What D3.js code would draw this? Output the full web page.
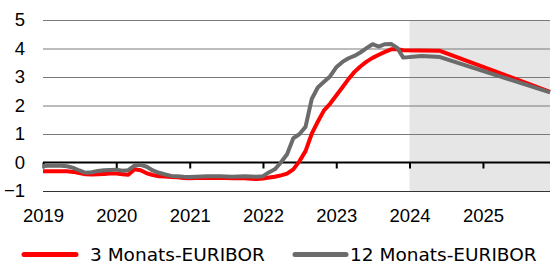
<!DOCTYPE html>
<html>
<head>
<meta charset="utf-8">
<script src="https://cdn.jsdelivr.net/npm/d3@7"></script>
<style>
  html, body { margin: 0; padding: 0; background: #fff; }
  svg { display: block; font-family: "DejaVu Sans", Verdana, sans-serif; }
</style>
</head>
<body>
<div id="chart"></div>
<script>
(function () {
  // ---------- Data ----------
  const months3m = [
    '2019-01','2019-02','2019-03','2019-04','2019-05','2019-06','2019-07','2019-08','2019-09','2019-10','2019-11','2019-12',
    '2020-01','2020-02','2020-03','2020-04','2020-05','2020-06','2020-07','2020-08','2020-09','2020-10','2020-11','2020-12',
    '2021-01','2021-02','2021-03','2021-04','2021-05','2021-06','2021-07','2021-08','2021-09','2021-10','2021-11','2021-12',
    '2022-01','2022-02','2022-03','2022-04','2022-05','2022-06','2022-07','2022-08','2022-09','2022-10','2022-11','2022-12',
    '2023-01','2023-02','2023-03','2023-04','2023-05','2023-06','2023-07','2023-08','2023-09','2023-10','2023-11','2023-12',
    '2024-03','2024-06','2025-12'
  ];
  const euribor3m = [
    -0.31, -0.31, -0.31, -0.31, -0.31, -0.33, -0.37, -0.41, -0.42, -0.41, -0.40, -0.39,
    -0.39, -0.41, -0.43, -0.24, -0.27, -0.38, -0.44, -0.48, -0.49, -0.51, -0.52, -0.54,
    -0.55, -0.54, -0.54, -0.54, -0.54, -0.54, -0.54, -0.55, -0.55, -0.55, -0.57, -0.58,
    -0.56, -0.53, -0.50, -0.45, -0.39, -0.24, 0.04, 0.40, 1.01, 1.43, 1.83, 2.06,
    2.35, 2.64, 2.91, 3.17, 3.37, 3.54, 3.67, 3.78, 3.88, 3.97, 3.97, 3.94,
    3.93, 3.92, 2.48
  ];

  const months12m = [
    '2019-01','2019-02','2019-03','2019-04','2019-05','2019-06','2019-07','2019-08','2019-09','2019-10','2019-11','2019-12',
    '2020-01','2020-02','2020-03','2020-04','2020-05','2020-06','2020-07','2020-08','2020-09','2020-10','2020-11','2020-12',
    '2021-01','2021-02','2021-03','2021-04','2021-05','2021-06','2021-07','2021-08','2021-09','2021-10','2021-11','2021-12',
    '2022-01','2022-02','2022-03','2022-04','2022-05','2022-06','2022-07','2022-08','2022-09','2022-10','2022-11','2022-12',
    '2023-01','2023-02','2023-03','2023-04','2023-05','2023-06','2023-07','2023-08','2023-09','2023-10','2023-11','2023-12',
    '2024-03','2024-06','2025-12'
  ];
  const euribor12m = [
    -0.12, -0.11, -0.11, -0.11, -0.13, -0.19, -0.28, -0.36, -0.34, -0.30, -0.27, -0.26,
    -0.25, -0.29, -0.27, -0.11, -0.08, -0.15, -0.28, -0.36, -0.42, -0.47, -0.48, -0.50,
    -0.51, -0.50, -0.49, -0.48, -0.48, -0.48, -0.49, -0.50, -0.49, -0.48, -0.49, -0.50,
    -0.48, -0.34, -0.24, 0.01, 0.29, 0.85, 0.99, 1.25, 2.23, 2.63, 2.83, 3.02,
    3.34, 3.53, 3.65, 3.74, 3.86, 4.01, 4.15, 4.07, 4.15, 4.16, 4.02, 3.68,
    3.74, 3.70, 2.46
  ];

  const yTicks = [-1, 0, 1, 2, 3, 4, 5];
  const yearTicks = ['2019', '2020', '2021', '2022', '2023', '2024', '2025'];
  const forecastStart = '2024-01';
  const seriesNames = ['3 Monats-EURIBOR', '12 Monats-EURIBOR'];

  // ---------- Setup ----------
  const W = 551, H = 266;
  const left = 43, right = 550, top = 20, bottom = 191;
  const fontSize = 18.5;
  const parseM = d3.timeParse('%Y-%m');
  const parseY = d3.timeParse('%Y');

  const svg = d3.select('#chart').append('svg')
    .attr('width', W).attr('height', H);

  const x = d3.scaleTime()
    .domain([parseM('2019-01'), parseM('2025-12')])
    .range([left, right]);
  const y = d3.scaleLinear().domain([-1, 5]).range([bottom, top]);

  // forecast shading
  svg.append('rect')
    .attr('x', x(parseM(forecastStart)))
    .attr('y', y(5))
    .attr('width', right - x(parseM(forecastStart)))
    .attr('height', y(-1) - y(5))
    .attr('fill', '#e6e6e6');

  // horizontal grid + y labels
  const yAxis = svg.append('g')
    .attr('transform', `translate(${left},0)`)
    .call(d3.axisLeft(y).tickValues(yTicks).tickSize(-(right - left)).tickPadding(18)
      .tickFormat(d3.format('d')));
  yAxis.select('.domain').remove();
  yAxis.selectAll('.tick line')
    .attr('stroke', d => d === -1 ? '#333' : '#7a7a7a')
    .attr('stroke-width', 1);
  yAxis.selectAll('.tick text')
    .attr('font-size', fontSize).attr('fill', '#000');
  yAxis.selectAll('.tick').filter(d => d === 0).select('line').remove();

  // zero line with year ticks
  const xAxis0 = svg.append('g')
    .attr('transform', `translate(0,${y(0)})`)
    .call(d3.axisBottom(x).tickValues(yearTicks.map(parseY)).tickSize(6).tickFormat(''));
  xAxis0.select('.domain').attr('stroke', '#000').attr('stroke-width', 2)
    .attr('d', `M${left},0H${right}`);
  xAxis0.selectAll('.tick line').attr('stroke', '#000').attr('stroke-width', 2);

  // year labels below plot
  const xAxisL = svg.append('g')
    .attr('transform', `translate(0,${bottom})`)
    .call(d3.axisBottom(x).tickValues(yearTicks.map(parseY)).tickSize(0).tickPadding(18)
      .tickFormat(d3.timeFormat('%Y')));
  xAxisL.select('.domain').remove();
  xAxisL.selectAll('.tick text').attr('font-size', fontSize).attr('fill', '#000');

  // ---------- Lines ----------
  const line = d3.line()
    .x(d => x(d[0]))
    .y(d => y(d[1]));

  const s3 = months3m.map((m, i) => [parseM(m), euribor3m[i]]);
  const s12 = months12m.map((m, i) => [parseM(m), euribor12m[i]]);

  svg.append('path').datum(s3)
    .attr('d', line).attr('fill', 'none')
    .attr('stroke', '#ff0000').attr('stroke-width', 4)
    .attr('stroke-linejoin', 'round');
  svg.append('path').datum(s12)
    .attr('d', line).attr('fill', 'none')
    .attr('stroke', '#6b6b6b').attr('stroke-width', 4)
    .attr('stroke-linejoin', 'round');

  // ---------- Legend ----------
  const legend = svg.append('g').attr('font-size', fontSize);
  const items = [
    { name: seriesNames[0], color: '#ff0000', x0: 24, x1: 76, tx: 90 },
    { name: seriesNames[1], color: '#6b6b6b', x0: 295, x1: 346, tx: 350 }
  ];
  items.forEach(it => {
    legend.append('line')
      .attr('x1', it.x0).attr('x2', it.x1).attr('y1', 254.5).attr('y2', 254.5)
      .attr('stroke', it.color).attr('stroke-width', 5).attr('stroke-linecap', 'round');
    legend.append('text')
      .attr('x', it.tx).attr('y', 261).attr('fill', '#000').text(it.name);
  });
})();
</script>
</body>
</html>
